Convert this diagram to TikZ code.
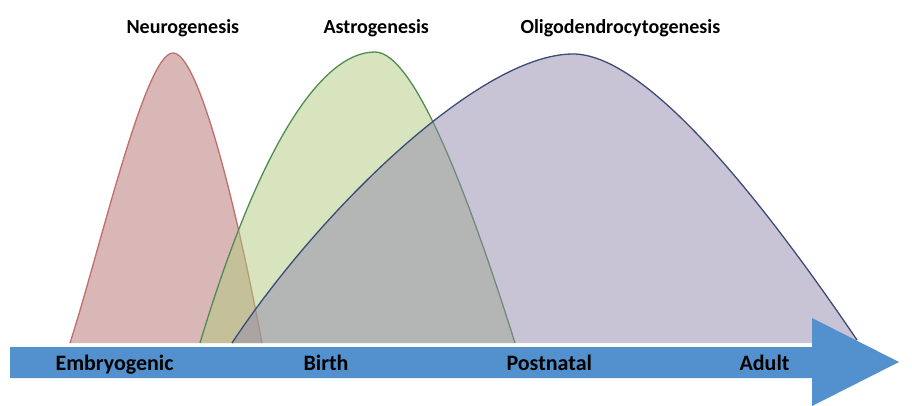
\documentclass[tikz,border=0pt]{standalone}
\usepackage{fontspec}
\setmainfont{Carlito}
\definecolor{neurored}{RGB}{179,111,111}
\definecolor{neuroline}{RGB}{192,110,105}
\definecolor{astrogreen}{RGB}{175,201,125}
\definecolor{astroline}{RGB}{80,140,80}
\definecolor{oligoblue}{RGB}{145,137,173}
\definecolor{oligoline}{RGB}{60,75,120}
\definecolor{timeblue}{RGB}{82,145,206}

\begin{document}
\begin{tikzpicture}[
    x=1pt, y=-1pt,
    wave/.style={fill opacity=0.5},
    rim/.style={line width=1.3pt},
    phase/.style={anchor=base west, font=\fontsize{20}{22}\selectfont\bfseries},
    stage/.style={anchor=base west, font=\fontsize{22}{24}\selectfont\bfseries}
]
    \useasboundingbox (0,0) rectangle (912,405);

    \fill[wave, neurored] (70,343) .. controls (100,250) and (145,53) .. (173,53)
        .. controls (198,53) and (235,200) .. (262,343) -- cycle;
    \draw[rim, neuroline] (70,343) .. controls (100,250) and (145,53) .. (173,53)
        .. controls (198,53) and (235,200) .. (262,343);
    \fill[wave, astrogreen] (200,343) .. controls (258,150) and (320,52) .. (375,52)
        .. controls (415,52) and (470,200) .. (515,343) -- cycle;
    \draw[rim, astroline] (200,343) .. controls (258,150) and (320,52) .. (375,52)
        .. controls (415,52) and (470,200) .. (515,343);
    \fill[wave, oligoblue] (232,343) .. controls (320,210) and (480,54) .. (573,54)
        .. controls (640,54) and (745,175) .. (857,340) -- (857,343) -- cycle;
    \draw[rim, oligoline] (232,343) .. controls (320,210) and (480,54) .. (573,54)
        .. controls (640,54) and (745,175) .. (857,340);

    \fill[timeblue] (10,347) -- (812,347) -- (812,318) -- (899,362) -- (812,406) -- (812,378) -- (10,378) -- cycle;

    \node[phase] (neuro) at (123,33) {Neurogenesis};
    \node[phase] (astro) at (320,33) {Astrogenesis};
    \node[phase] (oligo) at (517,33) {Oligodendrocytogenesis};

    \node[stage] (embryo) at (52,370) {Embryogenic};
    \node[stage] (birth) at (300,370) {Birth};
    \node[stage] (postnatal) at (503,370) {Postnatal};
    \node[stage] (adult) at (736,370) {Adult};
\end{tikzpicture}
\end{document}
